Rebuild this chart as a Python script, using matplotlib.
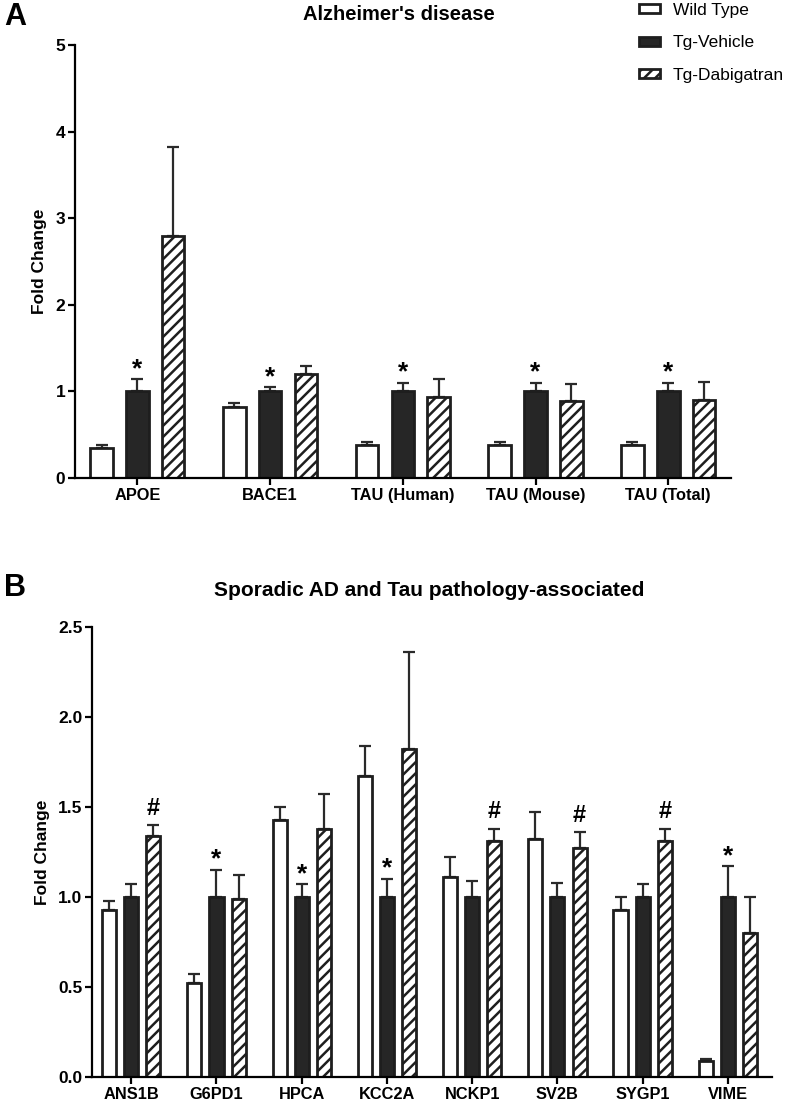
import numpy as np
import matplotlib.pyplot as plt
from matplotlib.patches import Patch

plt.rcParams['font.family'] = ['Liberation Sans', 'DejaVu Sans']
plt.rcParams['hatch.linewidth'] = 1.8
plt.rcParams['hatch.color'] = '#2a2a2a'

groups = ['Wild Type', 'Tg-Vehicle', 'Tg-Dabigatran']

# panel A
genes_a = ['APOE', 'BACE1', 'TAU (Human)', 'TAU (Mouse)', 'TAU (Total)']
wt_a = [0.35, 0.82, 0.38, 0.38, 0.38]
wt_a_top = [0.38, 0.87, 0.42, 0.42, 0.42]
veh_a = [1.0, 1.0, 1.0, 1.0, 1.0]
veh_a_top = [1.14, 1.05, 1.10, 1.10, 1.10]
dab_a = [2.79, 1.20, 0.93, 0.89, 0.90]
dab_a_top = [3.82, 1.29, 1.14, 1.08, 1.11]
marks_a = [('*', ''), ('*', ''), ('*', ''), ('*', ''), ('*', '')]

# panel B
genes_b = ['ANS1B', 'G6PD1', 'HPCA', 'KCC2A', 'NCKP1', 'SV2B', 'SYGP1', 'VIME']
wt_b = [0.93, 0.52, 1.43, 1.67, 1.11, 1.32, 0.93, 0.09]
wt_b_top = [0.98, 0.57, 1.50, 1.84, 1.22, 1.47, 1.00, 0.10]
veh_b = [1.0, 1.0, 1.0, 1.0, 1.0, 1.0, 1.0, 1.0]
veh_b_top = [1.07, 1.15, 1.07, 1.10, 1.09, 1.08, 1.07, 1.17]
dab_b = [1.34, 0.99, 1.38, 1.82, 1.31, 1.27, 1.31, 0.80]
dab_b_top = [1.40, 1.12, 1.57, 2.36, 1.38, 1.36, 1.38, 1.00]
marks_b = [('', '#'), ('*', ''), ('*', ''), ('*', ''), ('', '#'), ('', '#'), ('', '#'), ('*', '')]

edge = '#1e1e1e'
styles = [dict(color='white', hatch=None),
          dict(color='#262626', hatch=None),
          dict(color='white', hatch='///')]


def panel(ax, genes, vals, tops, marks, width, off, ymax, yticks, ylabels, xlim):
    x = np.arange(len(genes))
    for i, (v, t) in enumerate(zip(vals, tops)):
        v = np.array(v)
        err = np.array(t) - v
        ax.bar(x + (i - 1) * off, v, width, color=styles[i]['color'], hatch=styles[i]['hatch'],
               edgecolor=edge, linewidth=2, zorder=2,
               yerr=[np.zeros_like(err), err],
               error_kw=dict(ecolor='#2a2a2a', elinewidth=1.6, capsize=4, capthick=1.6, zorder=1))
    for j, (m_veh, m_dab) in enumerate(marks):
        if m_veh:
            ax.text(x[j], tops[1][j] - ymax * 0.004, m_veh, ha='center', va='bottom',
                    fontsize=19, fontweight='bold')
        if m_dab:
            ax.text(x[j] + off, tops[2][j] + ymax * 0.012, m_dab, ha='center', va='bottom',
                    fontsize=17, fontweight='bold')
    ax.set_xlim(*xlim)
    ax.set_ylim(0, ymax)
    ax.set_xticks(x)
    ax.set_xticklabels(genes, fontsize=11.8, fontweight='bold')
    ax.set_yticks(yticks)
    ax.set_yticklabels(ylabels, fontsize=12.5, fontweight='bold')
    ax.spines['top'].set_visible(False)
    ax.spines['right'].set_visible(False)
    ax.spines['left'].set_linewidth(1.6)
    ax.spines['bottom'].set_linewidth(1.6)
    ax.tick_params(width=1.6, length=5, pad=2)
    ax.set_ylabel('Fold Change', fontsize=12.5, fontweight='bold', labelpad=6)


fig = plt.figure(figsize=(7.9, 11.06), dpi=100)

ax1 = fig.add_axes([0.0949, 0.5678, 0.83, 0.3915])
panel(ax1, genes_a, [wt_a, veh_a, dab_a], [wt_a_top, veh_a_top, dab_a_top], marks_a,
      0.17, 0.27, 5, [0, 1, 2, 3, 4, 5], ['0', '1', '2', '3', '4', '5'], (-0.47, 4.47))

ax2 = fig.add_axes([0.1165, 0.0262, 0.861, 0.4069])
panel(ax2, genes_b, [wt_b, veh_b, dab_b], [wt_b_top, veh_b_top, dab_b_top], marks_b,
      0.165, 0.26, 2.5, [0, 0.5, 1.0, 1.5, 2.0, 2.5], ['0.0', '0.5', '1.0', '1.5', '2.0', '2.5'],
      (-0.46, 7.52))

fig.text(0.005, 0.985, 'A', fontsize=22, fontweight='bold', va='center')
fig.text(0.505, 0.987, "Alzheimer's disease", fontsize=14.5, fontweight='bold', ha='center', va='center')
fig.text(0.005, 0.468, 'B', fontsize=22, fontweight='bold', va='center')
fig.text(0.543, 0.466, 'Sporadic AD and Tau pathology-associated', fontsize=15,
         fontweight='bold', ha='center', va='center')

handles = [Patch(facecolor=styles[i]['color'], hatch=styles[i]['hatch'], edgecolor=edge, linewidth=2)
           for i in range(3)]
fig.legend(handles, groups, loc='upper left', bbox_to_anchor=(639 / 790, 1 - 3 / 1106), frameon=False,
           fontsize=12.5, handlelength=1.2, handleheight=0.4, labelspacing=1.0, handletextpad=0.75,
           borderpad=0, borderaxespad=0)

fig.savefig('out.png', dpi=100)
